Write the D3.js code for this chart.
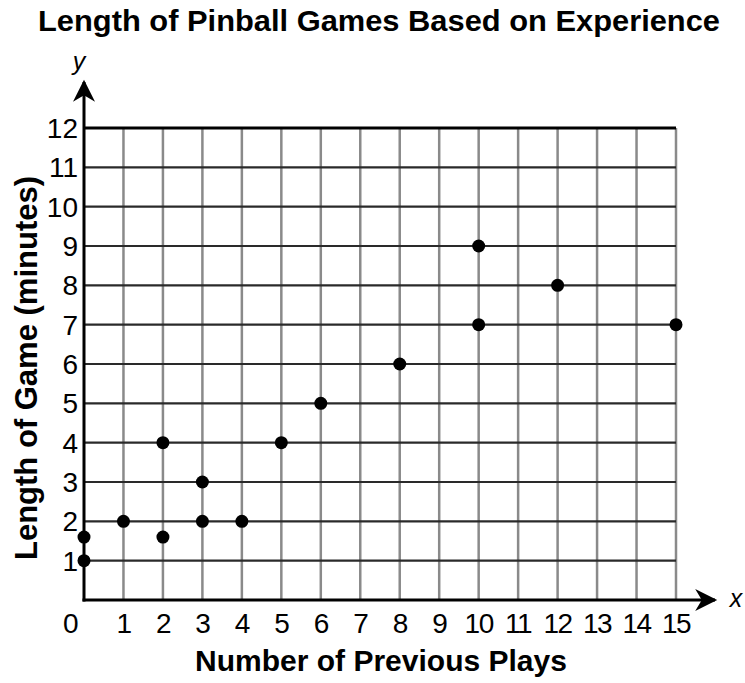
<!DOCTYPE html>
<html>
<head>
<meta charset="utf-8">
<script src="https://cdn.jsdelivr.net/npm/d3@7"></script>
<style>
body { margin: 0; background: #fff; }
text { font-family: "Liberation Sans", Arial, sans-serif; }
</style>
</head>
<body>
<div id="chart"></div>
<script>
// chart size
var w = 745;
var h = 683;

// data
var plays   = [0, 0, 1, 2, 2, 3, 3, 4, 5, 6, 8, 10, 10, 12, 15];
var minutes = [1, 1.6, 2, 1.6, 4, 2, 3, 2, 4, 5, 6, 7, 9, 8, 7];
var xTicks = d3.range(0, 16);
var yTicks = d3.range(1, 13);

var xScale = d3.scaleLinear().domain([0, 15]).range([84, 676]);
var yScale = d3.scaleLinear().domain([0, 12]).range([600, 128]);

var svg = d3.select("#chart").append("svg")
    .attr("width", w)
    .attr("height", h);

// vertical grid (gray)
svg.selectAll("line.vgrid")
   .data(xTicks.slice(1))
   .enter()
   .append("line")
   .attr("class", "vgrid")
   .attr("x1", function(d) { return xScale(d); })
   .attr("x2", function(d) { return xScale(d); })
   .attr("y1", yScale(0))
   .attr("y2", yScale(12))
   .attr("stroke", "#8a8a8a")
   .attr("stroke-width", 2.5);

// horizontal grid (dark)
svg.selectAll("line.hgrid")
   .data(yTicks)
   .enter()
   .append("line")
   .attr("class", "hgrid")
   .attr("x1", xScale(0))
   .attr("x2", xScale(15))
   .attr("y1", function(d) { return yScale(d); })
   .attr("y2", function(d) { return yScale(d); })
   .attr("stroke", function(d) { return d == 12 ? "#000" : "#2a2a2a"; })
   .attr("stroke-width", function(d) { return d == 12 ? 3 : 2.2; });

// arrow head for the axes
svg.append("defs").append("marker")
   .attr("id", "arrow")
   .attr("viewBox", "0 0 10 10")
   .attr("refX", 9).attr("refY", 5)
   .attr("markerWidth", 24).attr("markerHeight", 22)
   .attr("markerUnits", "userSpaceOnUse")
   .attr("orient", "auto")
   .append("path")
   .attr("d", "M0,0 L10,5 L0,10 L3,5 Z")
   .attr("fill", "#000");

svg.append("line")
   .attr("x1", xScale(0)).attr("x2", xScale(0))
   .attr("y1", yScale(0) + 1.5).attr("y2", 82)
   .attr("stroke", "#000").attr("stroke-width", 3)
   .attr("marker-end", "url(#arrow)");

svg.append("line")
   .attr("x1", xScale(0) - 1.5).attr("x2", 715)
   .attr("y1", yScale(0)).attr("y2", yScale(0))
   .attr("stroke", "#000").attr("stroke-width", 3)
   .attr("marker-end", "url(#arrow)");

// tick labels
svg.selectAll("text.xtick")
   .data(xTicks)
   .enter()
   .append("text")
   .attr("class", "xtick")
   .attr("x", function(d) { return d == 0 ? 70 : xScale(d); })
   .attr("y", 633)
   .attr("text-anchor", "middle")
   .attr("font-size", 28)
   .attr("letter-spacing", -1.5)
   .text(function(d) { return d; });

svg.selectAll("text.ytick")
   .data(yTicks)
   .enter()
   .append("text")
   .attr("class", "ytick")
   .attr("x", 78)
   .attr("y", function(d) { return yScale(d) + 10; })
   .attr("text-anchor", "end")
   .attr("font-size", 28)
   .text(function(d) { return d; });

// axis letters
svg.append("text")
   .attr("x", 79).attr("y", 70)
   .attr("text-anchor", "middle")
   .attr("font-size", 25).attr("font-style", "italic")
   .text("y");
svg.append("text")
   .attr("x", 736).attr("y", 607)
   .attr("text-anchor", "middle")
   .attr("font-size", 25).attr("font-style", "italic")
   .text("x");

// points
svg.selectAll("circle")
   .data(plays)
   .enter()
   .append("circle")
   .attr("cx", function(d) { return xScale(d); })
   .attr("cy", function(d, i) { return yScale(minutes[i]); })
   .attr("r", 6.5)
   .attr("fill", "#000");

// titles
svg.append("text")
   .attr("x", 379).attr("y", 31)
   .attr("text-anchor", "middle")
   .attr("font-size", 30).attr("font-weight", "bold")
   .attr("textLength", 682).attr("lengthAdjust", "spacingAndGlyphs")
   .text("Length of Pinball Games Based on Experience");

svg.append("text")
   .attr("x", 381).attr("y", 671)
   .attr("text-anchor", "middle")
   .attr("font-size", 30).attr("font-weight", "bold")
   .text("Number of Previous Plays");

svg.append("text")
   .attr("transform", "translate(37,368) rotate(-90)")
   .attr("text-anchor", "middle")
   .attr("font-size", 31).attr("font-weight", "bold")
   .text("Length of Game (minutes)");
</script>
</body>
</html>
